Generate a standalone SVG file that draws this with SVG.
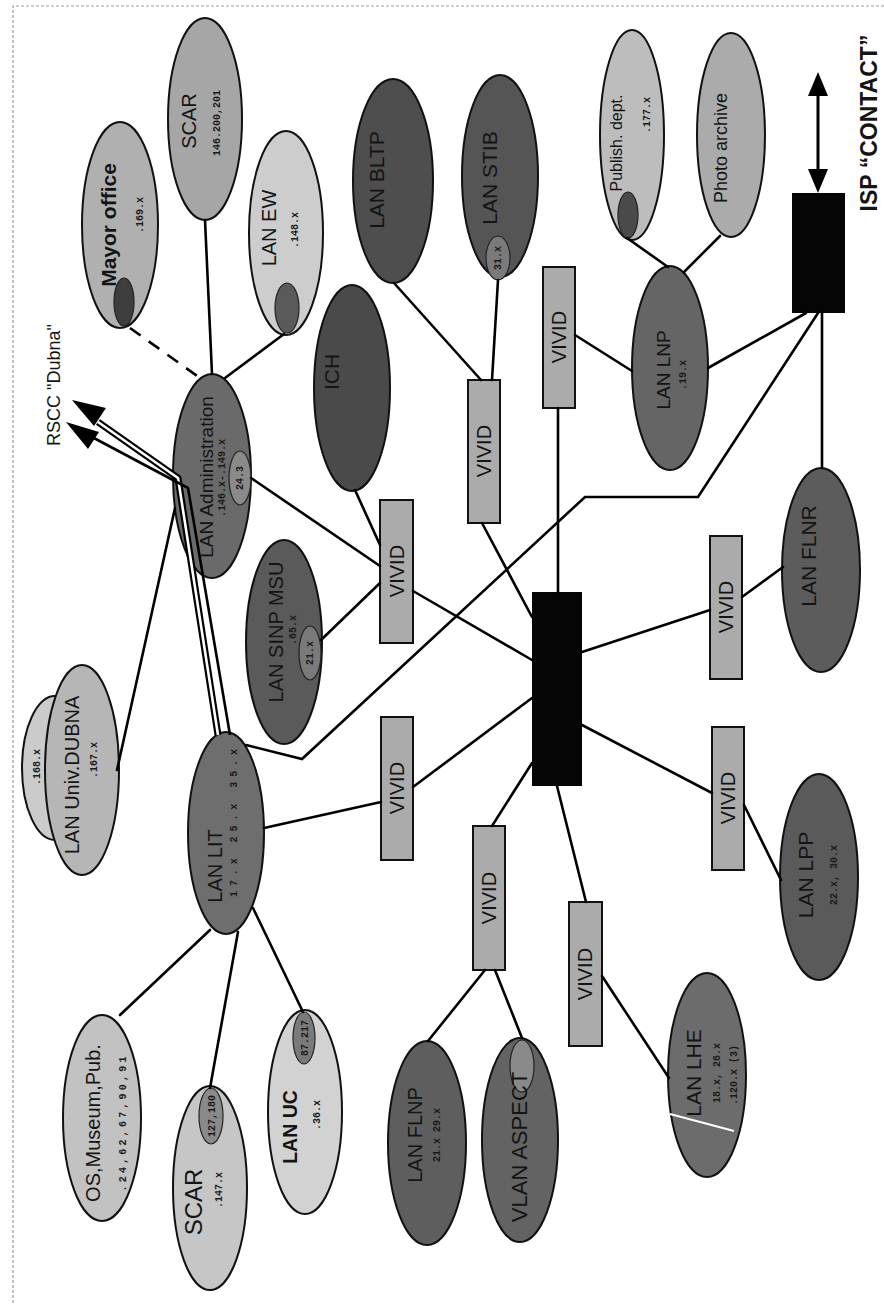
<svg xmlns="http://www.w3.org/2000/svg" width="884" height="1308" viewBox="0 0 884 1308">
<style>
.bg{fill:#fff}
.frame{stroke:#9a9a9a;stroke-width:1.2;stroke-dasharray:3 2;fill:none}
.el{stroke:#111;stroke-width:2}
.in{stroke:#222;stroke-width:1.2}
.ln{stroke:#000;stroke-width:2.6;fill:none;stroke-linecap:round}
.dash{stroke-dasharray:13 10;stroke-linecap:butt}
.t{font-family:"Liberation Sans",Arial,sans-serif;fill:#141414;text-anchor:middle}
.b{font-weight:bold}
.ip{font-family:"Liberation Mono","Courier New",monospace;font-weight:bold;font-size:10px;fill:#1a1a1a;text-anchor:middle}
.vivid rect{fill:#ababab;stroke:#111;stroke-width:2}
.vivid text{font-family:"Liberation Sans",Arial,sans-serif;font-size:20px;fill:#141414;text-anchor:middle}
</style>
<rect class="bg" x="0" y="0" width="884" height="1308"/>
<path class="frame" d="M884,6 L13,6 L13,1303"/>

<g id="mayor-office">
<ellipse class="el" cx="120" cy="225" rx="38" ry="103" fill="#b0b0b0"/>
<ellipse class="in" cx="124" cy="302" rx="10" ry="24" fill="#3e3e3e"/>
<text class="t b" font-size="21" transform="translate(116,225) rotate(-90)">Mayor office</text>
<text class="ip" transform="translate(143,215) rotate(-90)">.169.x</text>
</g>
<g id="scar-top">
<ellipse class="el" cx="205" cy="119" rx="37" ry="101" fill="#a6a6a6"/>
<text class="t" font-size="20" transform="translate(196,121) rotate(-90)">SCAR</text>
<text class="ip" font-size="12" transform="translate(220,123) rotate(-90)">146.200,201</text>
</g>
<g id="lan-ew">
<ellipse class="el" cx="286" cy="233" rx="37" ry="102" fill="#cdcdcd"/>
<ellipse class="in" cx="287" cy="308" rx="12" ry="25" fill="#5a5a5a"/>
<text class="t" font-size="20" transform="translate(276,228) rotate(-90)">LAN EW</text>
<text class="ip" transform="translate(298,230) rotate(-90)">.148.x</text>
</g>
<g id="lan-bltp">
<ellipse class="el" cx="393" cy="181" rx="40" ry="102" fill="#4e4e4e"/>
<text class="t" font-size="21" transform="translate(384,180) rotate(-90)">LAN BLTP</text>
</g>
<g id="lan-stib">
<ellipse class="el" cx="500" cy="176" rx="38" ry="101" fill="#555"/>
<ellipse class="in" cx="498" cy="258" rx="12" ry="22" fill="#7a7a7a"/>
<text class="t" font-size="21" transform="translate(497,178) rotate(-90)">LAN STIB</text>
<text class="ip" font-size="9" transform="translate(501,258) rotate(-90)">31.x</text>
</g>
<g id="ich">
<ellipse class="el" cx="352" cy="388" rx="38" ry="103" fill="#4a4a4a"/>
<text class="t" font-size="21" transform="translate(339,372) rotate(-90)">ICH</text>
</g>
<g id="publish-dept">
<ellipse class="el" cx="632" cy="135" rx="32" ry="105" fill="#bdbdbd"/>
<ellipse class="in" cx="628" cy="215" rx="10" ry="23" fill="#4a4a4a"/>
<text class="t" font-size="16" transform="translate(622,143) rotate(-90)">Publish. dept.</text>
<text class="ip" transform="translate(650,115) rotate(-90)">.177.x</text>
</g>
<g id="photo-archive">
<ellipse class="el" cx="731" cy="135" rx="34" ry="102" fill="#ababab"/>
<text class="t" font-size="18" transform="translate(727,148) rotate(-90)">Photo archive</text>
</g>
<g id="lan-lnp">
<ellipse class="el" cx="670" cy="368" rx="38" ry="102" fill="#656565"/>
<text class="t" font-size="19" transform="translate(670,370) rotate(-90)">LAN LNP</text>
<text class="ip" transform="translate(686,375) rotate(-90)">.19.x</text>
</g>
<g id="isp-contact">
<rect x="792" y="193" width="53" height="120" fill="#050505"/>
<text class="t b" font-size="23" transform="translate(877,123) rotate(-90)">ISP “CONTACT”</text>
</g>
<g id="central-switch">
<rect x="532" y="592" width="50" height="194" fill="#050505"/>
</g>
<g id="lan-administration">
<ellipse class="el" cx="212" cy="476" rx="39" ry="102" fill="#6a6a6a"/>
<ellipse class="in" cx="240" cy="478" rx="11" ry="27" fill="#8a8a8a"/>
<text class="t" font-size="19" transform="translate(213,477) rotate(-90)">LAN Administration</text>
<text class="ip" transform="translate(225,478) rotate(-90)">.146.x-.149.x</text>
<text class="ip" font-size="9" transform="translate(243,478) rotate(-90)">24.3</text>
</g>
<g id="lan-sinp-msu">
<ellipse class="el" cx="284" cy="642" rx="38" ry="102" fill="#5a5a5a"/>
<ellipse class="in" cx="310" cy="653" rx="11" ry="27" fill="#7a7a7a"/>
<text class="t" font-size="20" transform="translate(283,632) rotate(-90)">LAN SINP MSU</text>
<text class="ip" transform="translate(296,630) rotate(-90)">.65.x</text>
<text class="ip" font-size="9" transform="translate(313,653) rotate(-90)">21.x</text>
</g>
<g id="lan-univ-dubna">
<ellipse class="el" cx="55" cy="768" rx="33" ry="72" fill="#cbcbcb"/>
<ellipse class="el" cx="82" cy="770" rx="37" ry="105" fill="#b6b6b6"/>
<text class="ip" transform="translate(40,767) rotate(-90)">.168.x</text>
<text class="t" font-size="20" transform="translate(79,775) rotate(-90)">LAN Univ.DUBNA</text>
<text class="ip" transform="translate(97,760) rotate(-90)">.167.x</text>
</g>
<g id="lan-lit">
<ellipse class="el" cx="226" cy="833" rx="38" ry="101" fill="#6e6e6e"/>
<text class="t" font-size="20" transform="translate(222,866) rotate(-90)">LAN LIT</text>
<text class="ip" textLength="148" lengthAdjust="spacing" transform="translate(237,823) rotate(-90)">17.x 25.x 35.x</text>
</g>
<g id="os-museum-pub">
<ellipse class="el" cx="102" cy="1118" rx="39" ry="103" fill="#c2c2c2"/>
<text class="t" font-size="20" transform="translate(100,1123) rotate(-90)">OS,Museum,Pub.</text>
<text class="ip" font-size="11" textLength="135" lengthAdjust="spacing" transform="translate(126,1124) rotate(-90)">.24,62,67,90,91</text>
</g>
<g id="scar-bottom">
<ellipse class="el" cx="210" cy="1188" rx="37" ry="102" fill="#c6c6c6"/>
<ellipse class="in" cx="211" cy="1116" rx="12" ry="28" fill="#8a8a8a"/>
<text class="t" font-size="24" transform="translate(202,1202) rotate(-90)">SCAR</text>
<text class="ip" transform="translate(222,1190) rotate(-90)">.147.x</text>
<text class="ip" font-size="9" transform="translate(215,1116) rotate(-90)">127,180</text>
</g>
<g id="lan-uc">
<ellipse class="el" cx="305" cy="1112" rx="37" ry="102" fill="#d2d2d2"/>
<ellipse class="in" cx="304" cy="1038" rx="11" ry="26" fill="#7a7a7a"/>
<text class="t b" font-size="19.5" transform="translate(297,1127) rotate(-90)">LAN UC</text>
<text class="ip" transform="translate(320,1115) rotate(-90)">.36.x</text>
<text class="ip" font-size="9" transform="translate(308,1038) rotate(-90)">87.217</text>
</g>
<g id="lan-flnp">
<ellipse class="el" cx="427" cy="1143" rx="39" ry="102" fill="#5e5e5e"/>
<text class="t" font-size="20" transform="translate(422,1135) rotate(-90)">LAN FLNP</text>
<text class="ip" transform="translate(440,1135) rotate(-90)">21.x 29.x</text>
</g>
<g id="vlan-aspect">
<ellipse class="el" cx="520" cy="1140" rx="38" ry="102" fill="#636363"/>
<ellipse class="in" cx="522" cy="1066" rx="12" ry="26" fill="#8a8a8a"/>
<text class="t" font-size="22" transform="translate(527,1147) rotate(-90)">VLAN ASPECT</text>
</g>
<g id="lan-lhe">
<ellipse class="el" cx="707" cy="1075" rx="39" ry="102" fill="#6c6c6c"/>
<text class="t" font-size="21" transform="translate(701,1073) rotate(-90)">LAN LHE</text>
<text class="ip" transform="translate(720,1073) rotate(-90)">18.x, 26.x</text>
<text class="ip" transform="translate(737,1075) rotate(-90)">.120.x (3)</text>
<line x1="670" y1="1114" x2="734" y2="1131" stroke="#fff" stroke-width="2"/>
</g>
<g id="lan-lpp">
<ellipse class="el" cx="819" cy="877" rx="39" ry="103" fill="#5a5a5a"/>
<text class="t" font-size="21" transform="translate(813,875) rotate(-90)">LAN LPP</text>
<text class="ip" transform="translate(837,875) rotate(-90)">22.x, 30.x</text>
</g>
<g id="lan-flnr">
<ellipse class="el" cx="821" cy="570" rx="39" ry="102" fill="#5c5c5c"/>
<text class="t" font-size="21" transform="translate(816,556) rotate(-90)">LAN FLNR</text>
</g>

<g id="vivid-1" class="vivid"><rect x="468" y="380" width="32" height="143"/><text transform="translate(491,451) rotate(-90)">VIVID</text></g>
<g id="vivid-2" class="vivid"><rect x="543" y="267" width="32" height="141"/><text transform="translate(566,337) rotate(-90)">VIVID</text></g>
<g id="vivid-3" class="vivid"><rect x="380" y="500" width="33" height="143"/><text transform="translate(404,571) rotate(-90)">VIVID</text></g>
<g id="vivid-4" class="vivid"><rect x="381" y="717" width="32" height="143"/><text transform="translate(404,788) rotate(-90)">VIVID</text></g>
<g id="vivid-5" class="vivid"><rect x="710" y="536" width="32" height="143"/><text transform="translate(733,607) rotate(-90)">VIVID</text></g>
<g id="vivid-6" class="vivid"><rect x="712" y="727" width="32" height="143"/><text transform="translate(735,798) rotate(-90)">VIVID</text></g>
<g id="vivid-7" class="vivid"><rect x="473" y="826" width="32" height="144"/><text transform="translate(496,898) rotate(-90)">VIVID</text></g>
<g id="vivid-8" class="vivid"><rect x="569" y="902" width="33" height="144"/><text transform="translate(592,974) rotate(-90)">VIVID</text></g>

<g id="rscc-label">
<text class="t" font-size="18" transform="translate(60,385) rotate(-90)">RSCC "Dubna"</text>
</g>

<g id="connectors">
<line class="ln dash" x1="130" y1="328" x2="200" y2="378"/>
<line class="ln" x1="205" y1="220" x2="212" y2="374"/>
<line class="ln" x1="284" y1="334" x2="225" y2="378"/>
<line class="ln" x1="394" y1="283" x2="481" y2="380"/>
<line class="ln" x1="498" y1="280" x2="492" y2="380"/>
<line class="ln" x1="482" y1="523" x2="532" y2="617"/>
<line class="ln" x1="558" y1="408" x2="558" y2="592"/>
<line class="ln" x1="575" y1="335" x2="632" y2="371"/>
<line class="ln" x1="627" y1="238" x2="668" y2="267"/>
<line class="ln" x1="720" y1="236" x2="684" y2="272"/>
<line class="ln" x1="708" y1="368" x2="806" y2="313"/>
<polyline class="ln" points="818,313 698,497 585,497 302,759 246,745"/>
<line class="ln" x1="822" y1="313" x2="822" y2="468"/>
<line class="ln" x1="251" y1="478" x2="380" y2="566"/>
<line class="ln" x1="413" y1="591" x2="532" y2="660"/>
<line class="ln" x1="355" y1="490" x2="380" y2="545"/>
<line class="ln" x1="321" y1="640" x2="380" y2="583"/>
<line class="ln" x1="117" y1="770" x2="175" y2="508"/>
<line class="ln" x1="264" y1="828" x2="381" y2="802"/>
<line class="ln" x1="413" y1="787" x2="532" y2="698"/>
<line class="ln" x1="532" y1="763" x2="492" y2="826"/>
<line class="ln" x1="557" y1="786" x2="586" y2="902"/>
<line class="ln" x1="582" y1="652" x2="710" y2="610"/>
<line class="ln" x1="742" y1="597" x2="783" y2="567"/>
<line class="ln" x1="582" y1="725" x2="712" y2="793"/>
<line class="ln" x1="744" y1="805" x2="781" y2="880"/>
<line class="ln" x1="485" y1="970" x2="428" y2="1041"/>
<line class="ln" x1="495" y1="970" x2="522" y2="1038"/>
<line class="ln" x1="602" y1="976" x2="669" y2="1078"/>
<line class="ln" x1="210" y1="930" x2="120" y2="1015"/>
<line class="ln" x1="238" y1="932" x2="210" y2="1088"/>
<line class="ln" x1="253" y1="908" x2="303" y2="1012"/>
<line stroke="#000" stroke-width="3" x1="818" y1="95" x2="818" y2="172"/>
<path d="M818,72 L808,96 L828,96 Z M818,193 L808,169 L828,169 Z" fill="#000"/>
<path d="M218,735 L178,478 L98,422" fill="none" stroke="#000" stroke-width="7" stroke-linejoin="round"/>
<path d="M218,735 L178,478 L98,422" fill="none" stroke="#fff" stroke-width="2.6" stroke-linejoin="round"/>
<path d="M230,735 L188,488 L92,437" fill="none" stroke="#000" stroke-width="2.6" stroke-linejoin="round"/>
<path d="M72,400 L106,408 L94,426 Z" fill="#000"/>
<path d="M66,422 L99,432 L88,449 Z" fill="#000"/>
</g>
</svg>
